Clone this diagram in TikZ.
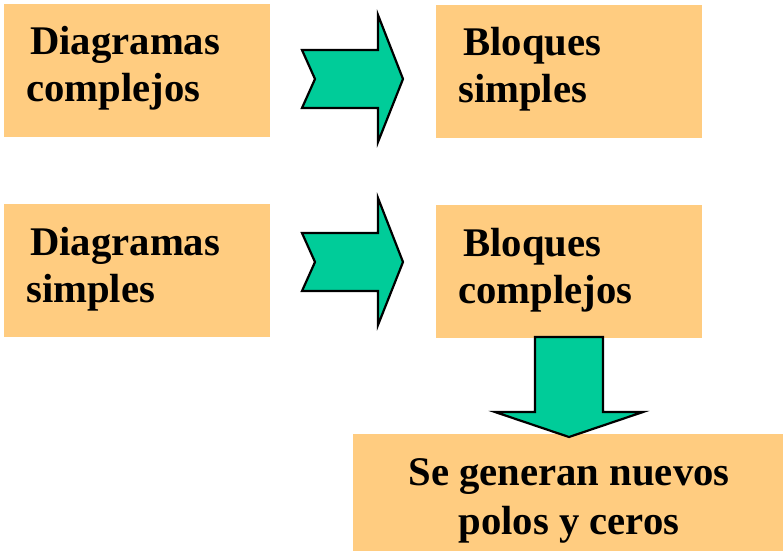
\documentclass[tikz,border=0pt]{standalone}
\usepackage{fontspec}
\setmainfont{Liberation Serif}
\definecolor{boxfill}{HTML}{FFCC80}
\definecolor{arrowfill}{HTML}{00CC99}
\begin{document}
\begin{tikzpicture}[x=1pt,y=-1pt,
  box/.style={rectangle, fill=boxfill, draw=none, inner sep=0pt, anchor=north west},
  lbl/.style={font=\fontsize{40.7}{47}\selectfont\bfseries, inner sep=0pt, anchor=base west, align=left},
  lblc/.style={font=\fontsize{40.7}{49}\selectfont\bfseries, inner sep=0pt, anchor=base, align=center},
  blockarrow/.style={fill=arrowfill, draw=black, line width=2.2pt, line join=miter}]
\useasboundingbox (0,0) rectangle (783,551);
% boxes
\node[box, minimum width=266pt, minimum height=133pt] (b1) at (4,4) {};
\node[box, minimum width=266pt, minimum height=133pt] (b2) at (436,5) {};
\node[box, minimum width=266pt, minimum height=133pt] (b3) at (4,204) {};
\node[box, minimum width=266pt, minimum height=133pt] (b4) at (436,205) {};
\node[box, minimum width=430pt, minimum height=117pt] (b5) at (353,434) {};
% texts (anchor base = baseline of last line)
\node[lbl] (t1) at (26,101) {\hspace{4pt}Diagramas\\complejos};
\node[lbl] (t2) at (458,102) {\hspace{5pt}Bloques\\simples};
\node[lbl] (t3) at (26,302) {\hspace{4pt}Diagramas\\simples};
\node[lbl] (t4) at (458,303) {\hspace{5pt}Bloques\\complejos};
\node[lblc] (t5) at (569,534) {Se generan nuevos\\polos y ceros};
% arrows
\draw[blockarrow] (302,50) -- (315,79) -- (302,108) -- (378,108) -- (378,142) -- (403,79) -- (378,15) -- (378,50) -- cycle;
\draw[blockarrow] (302,233) -- (315,262) -- (302,291) -- (378,291) -- (378,325) -- (403,262) -- (378,198) -- (378,233) -- cycle;
\draw[blockarrow] (535,337) -- (603,337) -- (603,412) -- (643,412) -- (569,437) -- (495,412) -- (535,412) -- cycle;
\end{tikzpicture}
\end{document}
